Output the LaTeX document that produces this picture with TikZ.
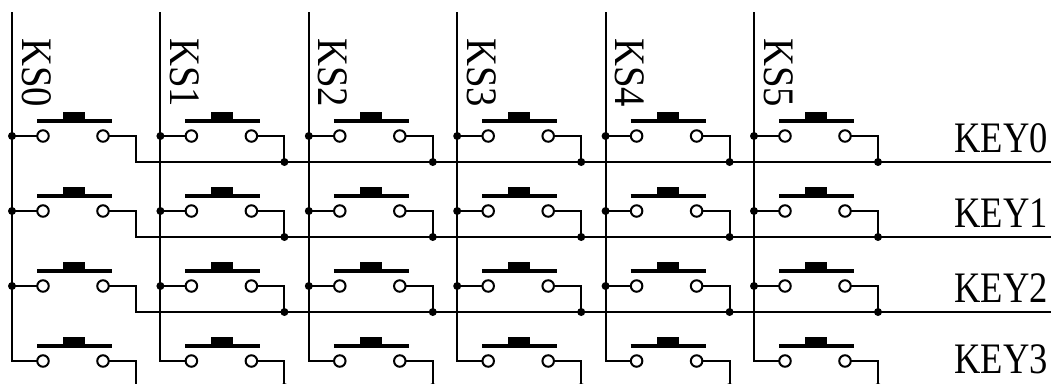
\documentclass[tikz,border=0pt]{standalone}
\usepackage{fontspec}
\setmainfont{Liberation Serif}
\begin{document}
\begin{tikzpicture}[x=1pt,y=-1pt,
  wire/.style={line width=2pt, line cap=rect},
  contact/.style={circle, draw, line width=2pt, fill=white, minimum size=11.5pt, inner sep=0pt},
  dot/.style={circle, fill, minimum size=8pt, inner sep=0pt},
  barline/.style={line width=4pt},
  klabel/.style={inner sep=0pt, font=\fontsize{43.5}{44}\selectfont}]
\useasboundingbox (0,0) rectangle (1051,383);
\clip (0,0) rectangle (1051,383);
\foreach \c in {0,...,5}{
  \pgfmathsetmacro{\xc}{12+148.4*\c}
  \coordinate (top-\c) at (\xc,13);
  \node[klabel, rotate=-90, anchor=base west] (KS-\c) at (\xc+10,38) {\scalebox{0.89}[1]{KS\c}};
  \foreach \r in {0,...,3}{
    \pgfmathsetmacro{\yr}{136+75*\r}
    \coordinate (J-\c-\r) at (\xc,\yr);
    \coordinate (K-\c-\r) at (\xc+124,\yr+26);
    \draw[barline] (\xc+25,\yr-15) -- (\xc+100,\yr-15);
    \fill (\xc+51,\yr-24) rectangle (\xc+73,\yr-15);
  }
}
% column wires
\foreach \c in {0,...,5}{
  \pgfmathsetmacro{\xc}{12+148.4*\c}
  \foreach \r in {0,...,3}{
    \pgfmathsetmacro{\yr}{136+75*\r}
    \node[contact] (L-\c-\r) at (\xc+31,\yr) {};
    \node[contact] (R-\c-\r) at (\xc+91,\yr) {};
  }
  \draw[wire] (top-\c) |- (L-\c-3);
  \foreach \r in {0,1,2}{
    \draw[wire] (J-\c-\r) -- (L-\c-\r);
    \node[dot] (JD-\c-\r) at (J-\c-\r) {};
  }
  \foreach \r in {0,...,3}{
    \draw[wire] (R-\c-\r) -| (K-\c-\r);
  }
}
% key lines
\foreach \r/\yb in {0/152,1/227,2/302,3/373}{
  \pgfmathsetmacro{\yk}{162+75*\r}
  \coordinate (E-\r) at (1060,\yk);
  \draw[wire] (K-0-\r) -- (E-\r);
  \foreach \c in {1,...,5}{ \node[dot] (KD-\c-\r) at (K-\c-\r) {}; }
  \node[klabel, anchor=base east] (KEY-\r) at (1048,\yb) {\scalebox{0.84}[1]{KEY\r}};
}
\end{tikzpicture}
\end{document}
